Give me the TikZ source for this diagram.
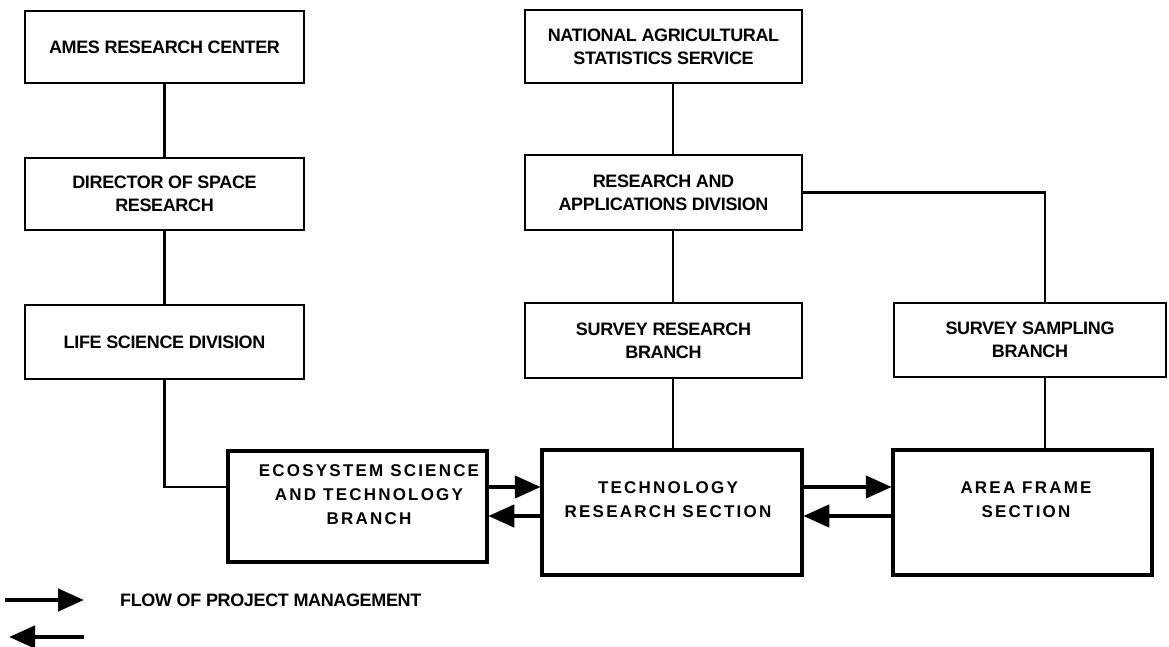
\documentclass[tikz,border=0pt]{standalone}
\usepackage{fontspec}
\setmainfont{Liberation Sans}
\newfontfamily\ecofont{Liberation Sans}[LetterSpace=13]
\newfontfamily\topfont{Liberation Sans}[LetterSpace=-2]
\usetikzlibrary{arrows.meta}
\tikzset{
  tbox/.style={draw, line width=2.8pt, inner sep=0pt, align=center,
    font=\topfont\bfseries\fontsize{18}{23}\selectfont},
  kbox/.style={draw, line width=4.5pt, inner sep=0pt},
  ktext/.style={inner sep=0pt, align=center,
    font=\ecofont\bfseries\fontsize{17}{24}\selectfont},
  conn/.style={line width=2.5pt},
  flow/.style={line width=4.5pt, -{Triangle[length=26pt,width=22pt]}, shorten >=-1pt}
}
\begin{document}
\begin{tikzpicture}[x=1pt,y=-1pt]
\useasboundingbox (0,0) rectangle (1169,647);
% left column
\node[tbox, minimum width=279pt, minimum height=72pt] (ames) at (164.5,47) {AMES RESEARCH CENTER};
\node[tbox, minimum width=279pt, minimum height=72pt] (dir) at (164.5,194) {DIRECTOR OF SPACE\\RESEARCH};
\node[tbox, minimum width=279pt, minimum height=74pt] (life) at (164.5,342) {LIFE SCIENCE DIVISION};
% middle column
\node[tbox, minimum width=277pt, minimum height=73pt] (nass) at (663.5,46.5) {NATIONAL AGRICULTURAL\\STATISTICS SERVICE};
\node[tbox, minimum width=277pt, minimum height=75pt] (rad) at (663.5,192.5) {RESEARCH AND\\APPLICATIONS DIVISION};
\node[tbox, minimum width=277pt, minimum height=75pt] (srb) at (663.5,340.5) {SURVEY RESEARCH\\BRANCH};
% right column
\node[tbox, minimum width=272pt, minimum height=74pt] (ssb) at (1030,340) {SURVEY SAMPLING\\BRANCH};
% bottom row
\node[kbox, minimum width=259pt, minimum height=111pt] (eco) at (357.5,506.5) {};
\node[ktext] (ecot) at (369,495) {ECOSYSTEM SCIENCE\\AND TECHNOLOGY\\BRANCH};
\node[kbox, minimum width=260pt, minimum height=125pt] (trs) at (672,512.5) {};
\node[ktext] (trst) at (668,500) {TECHNOLOGY\\RESEARCH SECTION};
\node[kbox, minimum width=259pt, minimum height=125pt] (af) at (1022.5,512.5) {};
\node[ktext] (aft) at (1026,500) {AREA FRAME\\SECTION};
% helper coordinates
\coordinate (yup) at (0,487);
\coordinate (ydn) at (0,516);
\coordinate (xm) at (673,0);
\coordinate (xr) at (1045,0);
% connectors
\draw[conn] (ames.south) -- (dir.north);
\draw[conn] (dir.south) -- (life.north);
\draw[conn] (life.south) |- (eco.west |- yup);
\draw[conn] (xm |- nass.south) -- (xm |- rad.north);
\draw[conn] (xm |- rad.south) -- (xm |- srb.north);
\draw[conn] (xm |- srb.south) -- (xm |- trs.north);
\draw[conn] (rad.east) -| (xr |- ssb.north);
\draw[conn] (xr |- ssb.south) -- (xr |- af.north);
% flow arrows
\draw[flow] (eco.east |- yup) -- (trs.west |- yup);
\draw[flow] (trs.west |- ydn) -- (eco.east |- ydn);
\draw[flow] (trs.east |- yup) -- (af.west |- yup);
\draw[flow] (af.west |- ydn) -- (trs.east |- ydn);
% legend
\coordinate (la1) at (5,600);
\coordinate (la2) at (83,600);
\coordinate (lb1) at (84,637);
\coordinate (lb2) at (10,637);
\draw[flow] (la1) -- (la2);
\draw[flow] (lb1) -- (lb2);
\node[anchor=west, inner sep=0pt, font=\topfont\bfseries\fontsize{18}{20}\selectfont] (leg) at (120,600) {FLOW OF PROJECT MANAGEMENT};
\end{tikzpicture}
\end{document}
